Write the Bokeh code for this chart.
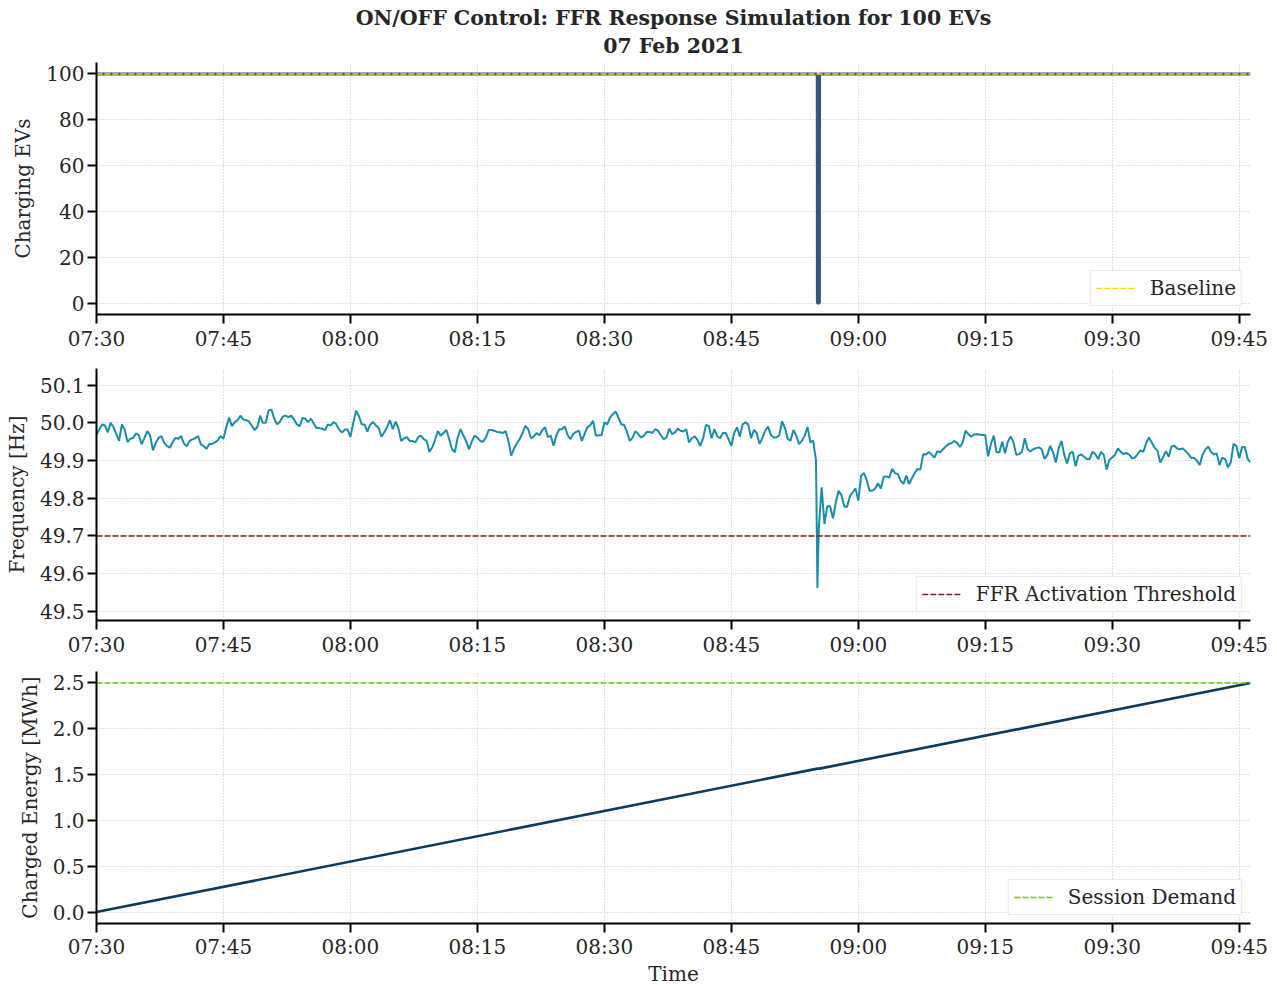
import numpy as np
import pandas as pd
from bokeh.plotting import figure
from bokeh.layouts import column
from bokeh.models import Range1d, FixedTicker, DatetimeTickFormatter, NumeralTickFormatter, Title
from bokeh.embed import file_html
from bokeh.resources import INLINE

# ---------------------------------------------------------------- data
DAY = "2021-02-07"
START = "07:30:00"
END = "09:46:20"

title_main = "ON/OFF Control: FFR Response Simulation for 100 EVs"
title_date = "07 Feb 2021"

time_tick_labels = ["07:30", "07:45", "08:00", "08:15", "08:30",
                    "08:45", "09:00", "09:15", "09:30", "09:45"]

# grid frequency, one reading every 20 s from 07:30:00
freq_step_s = 20
freq_hz = [
    49.969, 49.982, 49.996, 49.993, 49.975, 50.000, 49.989, 49.971, 49.952, 49.996,
    49.982, 49.949, 49.958, 49.960, 49.972, 49.967, 49.943, 49.960, 49.978, 49.967,
    49.927, 49.947, 49.960, 49.965, 49.947, 49.938, 49.934, 49.949, 49.960, 49.958,
    49.965, 49.945, 49.938, 49.952, 49.956, 49.959, 49.965, 49.943, 49.938, 49.931,
    49.944, 49.944, 49.948, 49.954, 49.965, 49.958, 49.989, 50.014, 49.991, 50.002,
    50.007, 50.019, 50.009, 50.007, 50.004, 49.993, 49.981, 49.989, 50.019, 50.000,
    50.000, 50.033, 50.035, 50.011, 49.996, 50.003, 50.016, 50.019, 50.015, 50.019,
    50.009, 49.996, 49.991, 50.013, 50.011, 50.002, 50.011, 49.998, 49.986, 49.986,
    49.984, 49.981, 49.996, 49.993, 50.002, 49.996, 49.982, 49.974, 49.982, 49.982,
    49.963, 50.000, 50.032, 50.018, 49.996, 49.995, 49.977, 49.995, 50.002, 49.993,
    49.987, 49.963, 49.975, 49.989, 50.007, 49.983, 50.003, 49.986, 49.952, 49.959,
    49.962, 49.952, 49.952, 49.948, 49.962, 49.966, 49.957, 49.952, 49.923, 49.935,
    49.955, 49.978, 49.966, 49.973, 49.981, 49.957, 49.930, 49.922, 49.961, 49.983,
    49.967, 49.952, 49.930, 49.950, 49.966, 49.961, 49.952, 49.950, 49.961, 49.981,
    49.981, 49.979, 49.976, 49.975, 49.973, 49.978, 49.952, 49.913, 49.932, 49.946,
    49.957, 49.973, 49.992, 49.983, 49.959, 49.964, 49.973, 49.967, 49.981, 49.988,
    49.962, 49.966, 49.939, 49.967, 49.983, 49.983, 49.990, 49.967, 49.957, 49.971,
    49.976, 49.979, 49.952, 49.971, 49.988, 49.994, 50.005, 49.966, 49.967, 49.967,
    50.001, 49.996, 50.014, 50.023, 50.030, 50.014, 49.996, 49.994, 49.976, 49.952,
    49.961, 49.978, 49.970, 49.961, 49.966, 49.976, 49.976, 49.973, 49.983, 49.979,
    49.967, 49.957, 49.961, 49.985, 49.970, 49.974, 49.985, 49.979, 49.977, 49.983,
    49.948, 49.959, 49.964, 49.955, 49.939, 49.959, 49.994, 49.992, 49.959, 49.983,
    49.964, 49.959, 49.973, 49.973, 49.957, 49.939, 49.973, 49.988, 49.964, 49.996,
    50.001, 49.996, 49.959, 49.981, 49.973, 49.944, 49.960, 49.979, 49.990, 49.968,
    49.961, 49.961, 49.967, 50.004, 49.986, 49.957, 49.953, 49.981, 49.966, 49.944,
    49.952, 49.966, 49.989, 49.948, 49.953, 49.900, 49.720, 49.829, 49.732, 49.779,
    49.779, 49.747, 49.788, 49.820, 49.809, 49.779, 49.777, 49.805, 49.816, 49.826,
    49.794, 49.860, 49.867, 49.847, 49.820, 49.820, 49.826, 49.840, 49.826, 49.857,
    49.858, 49.855, 49.878, 49.867, 49.864, 49.847, 49.838, 49.860, 49.838, 49.853,
    49.867, 49.878, 49.876, 49.917, 49.916, 49.923, 49.915, 49.908, 49.925, 49.922,
    49.930, 49.937, 49.944, 49.946, 49.952, 49.947, 49.936, 49.948, 49.979, 49.970,
    49.963, 49.969, 49.970, 49.969, 49.968, 49.967, 49.911, 49.944, 49.966, 49.922,
    49.922, 49.950, 49.919, 49.950, 49.964, 49.948, 49.915, 49.917, 49.923, 49.959,
    49.930, 49.924, 49.930, 49.933, 49.935, 49.930, 49.904, 49.915, 49.939, 49.922,
    49.895, 49.932, 49.952, 49.915, 49.892, 49.920, 49.923, 49.885, 49.913, 49.916,
    49.910, 49.904, 49.904, 49.923, 49.917, 49.904, 49.923, 49.915, 49.876, 49.902,
    49.908, 49.915, 49.932, 49.923, 49.917, 49.920, 49.916, 49.906, 49.908, 49.917,
    49.927, 49.923, 49.946, 49.961, 49.948, 49.934, 49.927, 49.895, 49.908, 49.925,
    49.910, 49.937, 49.939, 49.932, 49.930, 49.932, 49.925, 49.917, 49.907, 49.907,
    49.900, 49.888, 49.915, 49.929, 49.937, 49.923, 49.916, 49.919, 49.888, 49.908,
    49.904, 49.882, 49.895, 49.944, 49.939, 49.906, 49.935, 49.936, 49.904, 49.895,
]

# finer readings around the under-frequency event (seconds after 07:30)
event_time_s = [5105, 5110, 5115]
event_hz = [49.740, 49.562, 49.650]

# number of EVs charging (seconds after 07:30)
ev_time_s = [0, 5109, 5110, 5124, 5125, 8180]
ev_count = [100, 100, 0, 0, 100, 100]

# cumulative charged energy (seconds after 07:30)
energy_time_s = [0, 5110, 5125, 8180]
energy_mwh = [0.0, 1.565, 1.565, 2.5]

baseline_evs = 100
ffr_threshold_hz = 49.7
session_demand_mwh = 2.5

ev_ticks = [0, 20, 40, 60, 80, 100]
freq_ticks = [49.5, 49.6, 49.7, 49.8, 49.9, 50.0, 50.1]
energy_ticks = [0.0, 0.5, 1.0, 1.5, 2.0, 2.5]

# ---------------------------------------------------------------- prep
t0 = pd.Timestamp(f"{DAY} {START}")
t_end = pd.Timestamp(f"{DAY} {END}")


def at(seconds):
    return t0 + pd.to_timedelta(np.asarray(seconds, dtype=float), unit="s")


freq_df = pd.DataFrame({
    "t": list(at(np.arange(len(freq_hz)) * freq_step_s)) + list(at(event_time_s)),
    "f": list(freq_hz) + list(event_hz),
}).sort_values("t")

tick_times = [pd.Timestamp(f"{DAY} {lbl}") for lbl in time_tick_labels]
tick_ms = [ts.value / 1e6 for ts in tick_times]

FONT = "DejaVu Serif"
TEXT = "#262626"
FS = "20px"
DASH = "6 2"


def make_fig(y_range, y_ticks, y_fmt, ylabel, top, bottom, xlabel=None):
    p = figure(
        x_axis_type="datetime",
        x_range=Range1d(t0, t_end),
        y_range=y_range,
        frame_width=1154, frame_height=252,
        min_border_left=96, min_border_right=27,
        min_border_top=top, min_border_bottom=bottom,
        output_backend="svg", toolbar_location=None,
    )
    p.title = None
    p.outline_line_color = None
    p.background_fill_color = "white"
    p.border_fill_color = "white"

    p.xaxis.ticker = FixedTicker(ticks=tick_ms)
    p.xaxis.formatter = DatetimeTickFormatter(
        minutes="%H:%M", hourmin="%H:%M", hours="%H:%M", minsec="%H:%M",
        seconds="%H:%M", days="%H:%M")
    p.yaxis.ticker = FixedTicker(ticks=y_ticks)
    p.yaxis.formatter = NumeralTickFormatter(format=y_fmt)

    for ax in (p.xaxis[0], p.yaxis[0]):
        ax.axis_line_width = 2
        ax.axis_line_color = "black"
        ax.major_tick_line_width = 2
        ax.major_tick_line_color = "black"
        ax.major_tick_in = 0
        ax.major_tick_out = 9
        ax.minor_tick_line_color = None
        ax.major_label_text_font = FONT
        ax.major_label_text_font_size = FS
        ax.major_label_text_color = TEXT
        ax.major_label_standoff = 3
        ax.axis_label_text_font = FONT
        ax.axis_label_text_font_size = FS
        ax.axis_label_text_font_style = "normal"
        ax.axis_label_text_color = TEXT
        ax.axis_label_standoff = 8

    p.yaxis.axis_label = ylabel
    if xlabel:
        p.xaxis.axis_label = xlabel
        p.xaxis.axis_label_standoff = 0
        p.xaxis.major_label_standoff = 2

    for g in (p.xgrid[0], p.ygrid[0]):
        g.grid_line_color = "#c4c4c4"
        g.grid_line_dash = "1 2"
        g.grid_line_width = 1
    return p


def style_legend(p):
    lg = p.legend[0]
    lg.location = "bottom_right"
    lg.label_text_font = FONT
    lg.label_text_font_size = FS
    lg.label_text_color = TEXT
    lg.border_line_color = "#d6d6d6"
    lg.border_line_width = 1
    lg.background_fill_alpha = 0.85
    lg.padding = 5
    lg.margin = 8
    lg.glyph_width = 40
    lg.glyph_height = 20
    lg.label_height = 20
    lg.label_standoff = 14
    lg.spacing = 0


def add_title(p, text, standoff):
    p.add_layout(Title(text=text, align="center", text_font=FONT, text_font_size="20.5px",
                       text_font_style="bold", text_color=TEXT, standoff=standoff), "above")


# ---------------------------------------------------------------- panel 1
p1 = make_fig(Range1d(-5, 105), ev_ticks, "0", "Charging EVs", top=62, bottom=42)
add_title(p1, title_date, 9)
add_title(p1, title_main, -5)
p1.line(at(ev_time_s), ev_count, line_color="#36577a", line_width=3)
p1.line([t0, t_end], [baseline_evs, baseline_evs], line_color="#ffd900",
        line_width=1.6, line_dash=DASH, legend_label="Baseline")
style_legend(p1)

# ---------------------------------------------------------------- panel 2
p2 = make_fig(Range1d(49.476, 50.144), freq_ticks, "0.0", "Frequency [Hz]", top=12, bottom=38)
p2.line(freq_df["t"], freq_df["f"], line_color="#168fa8", line_width=2)
p2.line([t0, t_end], [ffr_threshold_hz, ffr_threshold_hz], line_color="#8b1a1a",
        line_width=1.6, line_dash=DASH, legend_label="FFR Activation Threshold")
style_legend(p2)

# ---------------------------------------------------------------- panel 3
p3 = make_fig(Range1d(-0.125, 2.625), energy_ticks, "0.0", "Charged Energy [MWh]",
              top=12, bottom=60, xlabel="Time")
p3.line(at(energy_time_s), energy_mwh, line_color="#0d3b5e", line_width=2.6)
p3.line([t0, t_end], [session_demand_mwh, session_demand_mwh], line_color="#72c213",
        line_width=1.6, line_dash=DASH, legend_label="Session Demand")
style_legend(p3)

layout = column(p1, p2, p3, spacing=0)
open("out.html", "w").write(file_html(layout, INLINE))
